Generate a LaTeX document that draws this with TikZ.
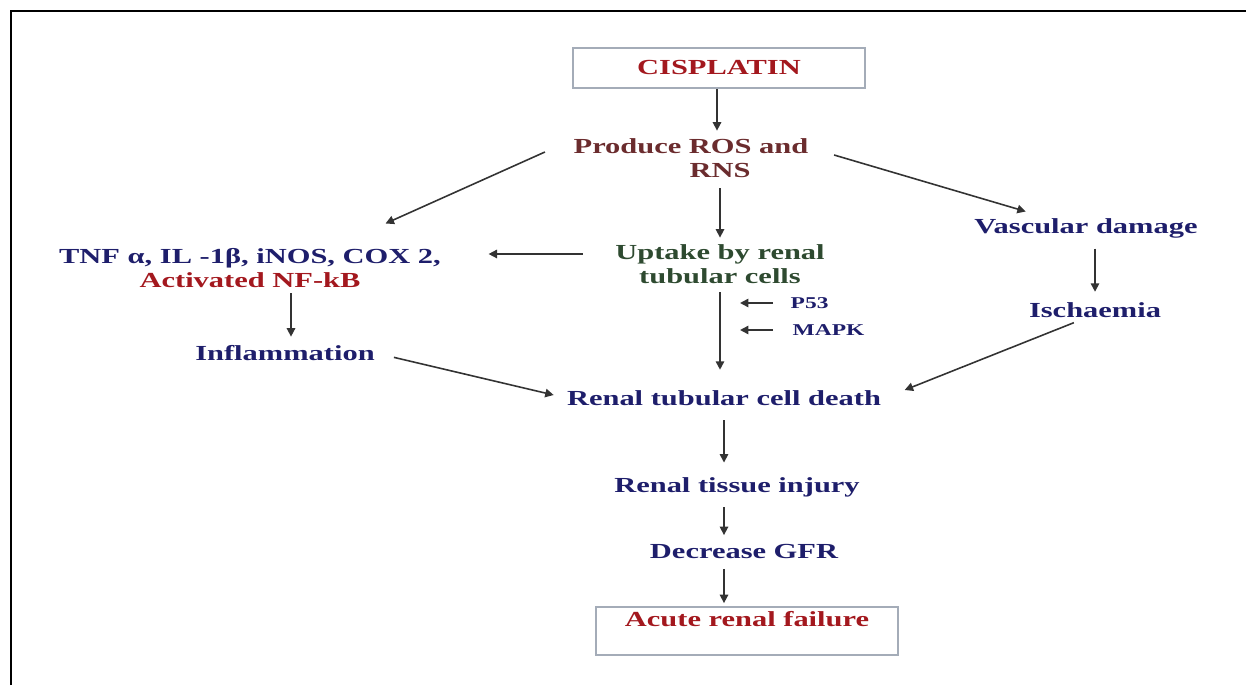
\documentclass[tikz,border=0pt]{standalone}
\usepackage{fontspec}
\setmainfont[FakeStretch=1.42]{Liberation Serif}
\usetikzlibrary{arrows.meta}
\definecolor{navy}{HTML}{1E1E6B}
\definecolor{darkred}{HTML}{A3181E}
\definecolor{maroon}{HTML}{6B2C2E}
\definecolor{darkgreen}{HTML}{2E4A30}
\definecolor{boxline}{HTML}{A4ACB8}
\definecolor{arrline}{HTML}{333333}
\tikzset{
  lbl/.style={font=\bfseries\fontsize{6.1}{6.9}\selectfont, text=navy, inner sep=0pt, align=center},
  small/.style={lbl, font=\bfseries\fontsize{4.7}{5}\selectfont},
  box/.style={lbl, draw=boxline, line width=0.5pt},
  arr/.style={draw=arrline, line width=0.45pt, -{Triangle[length=2.4pt,width=2.4pt]}},
}
\begin{document}
\begin{tikzpicture}[x=0.01cm, y=-0.01cm]
\useasboundingbox (0,0) rectangle (1246,685);
\draw[line width=0.85pt] (11,685) -- (11,11) -- (1246,11);
% nodes
\node[box, text=darkred, minimum width=2.92cm, minimum height=0.4cm] (cis) at (719,68) {CISPLATIN};
\node[lbl, text=maroon] (ros) at (691,158) {Produce ROS and\\\hspace*{0.58cm}RNS};
\node[lbl] (tnf) at (250,268) {TNF α, IL -1β, iNOS, COX 2,\\\textcolor{darkred}{Activated NF-kB}};
\node[lbl, text=darkgreen] (upt) at (720,264) {Uptake by renal\\tubular cells};
\node[lbl] (vas) at (1086,228) {Vascular damage};
\node[lbl] (isc) at (1095,310) {Ischaemia};
\node[lbl] (inf) at (285,353) {Inflammation};
\node[small, anchor=west] (p53) at (790,303) {P53};
\node[small, anchor=west] (mapk) at (792,330) {MAPK};
\node[lbl] (death) at (724,398) {Renal tubular cell death};
\node[lbl] (tis) at (737,487) {Renal tissue injury};
\node[lbl] (gfr) at (744,551) {Decrease GFR};
\node[box, text=darkred, minimum width=3.02cm, minimum height=0.48cm] (arf) at (747,631) {Acute renal failure\\~};
% connectors
\draw[arr, shorten >=0.07cm] ([xshift=-0.02cm]cis.south) -- ([xshift=-0.02cm]cis.south |- ros.north);
\draw[arr, shorten <=0.1cm, shorten >=0.06cm] (upt.north |- ros.south) -- (upt.north);
\draw[arr] ([shift={(-0.28cm,0.06cm)}]ros.west) -- ([shift={(-0.56cm,0.24cm)}]tnf.north east);
\draw[arr] ([shift={(0.25cm,0.03cm)}]ros.east) -- ([shift={(0.52cm,0.06cm)}]vas.north west);
\draw[arr, shorten <=0.32cm, shorten >=0.47cm] ([yshift=0.1cm]upt.west) -- ([yshift=0.1cm]upt.west -| tnf.east);
\draw[arr, shorten <=0.05cm, shorten >=0.08cm] ([xshift=0.06cm]inf.north |- tnf.south) -- ([xshift=0.06cm]inf.north);
\draw[arr, shorten <=0.1cm, shorten >=0.1cm] (vas.south -| isc.north) -- (isc.north);
\draw[arr, shorten <=0.19cm, shorten >=0.13cm] (inf.east) -- (death.west);
\draw[arr, shorten <=0.12cm] ([xshift=-0.1cm]isc.south) -- ([shift={(0.23cm,0.08cm)}]death.east);
\draw[arr, shorten <=0.08cm, shorten >=0.2cm] (upt.south) -- (upt.south |- death.north);
\draw[arr] ([xshift=-0.17cm]p53.west) -- ([xshift=0.2cm]p53.west -| upt.south);
\draw[arr] ([xshift=-0.19cm]mapk.west) -- ([xshift=0.2cm]mapk.west -| upt.south);
\draw[arr, shorten <=0.14cm, shorten >=0.14cm] (death.south) -- (death.south |- tis.north);
\draw[arr, shorten <=0.1cm, shorten >=0.08cm] (tis.south -| death.south) -- (gfr.north -| death.south);
\draw[arr, shorten <=0.1cm, shorten >=0.03cm] (gfr.south -| death.south) -- (arf.north -| death.south);
\end{tikzpicture}
\end{document}
